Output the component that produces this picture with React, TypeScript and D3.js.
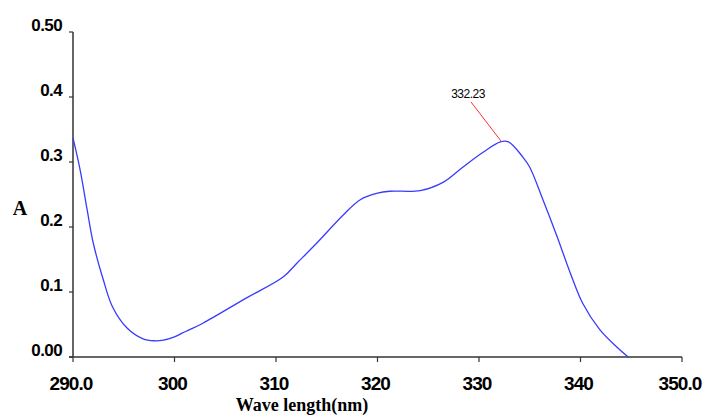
import React from "react";
import * as d3 from "d3";

const wavelength = [290.0, 290.7, 291.4, 292.0, 293.0, 293.9, 295.3, 296.9, 298.0, 298.9, 300.0, 300.8, 301.5, 302.8, 307.1, 310.7, 312.1, 314.0, 316.6, 318.3, 320.0, 321.2, 324.2, 326.5, 328.4, 330.4, 332.1, 332.9, 334.3, 335.0, 336.3, 337.7, 339.0, 340.2, 341.9, 343.6, 344.7];
const absorbance = [0.337, 0.288, 0.226, 0.175, 0.118, 0.077, 0.045, 0.028, 0.025, 0.026, 0.031, 0.037, 0.042, 0.052, 0.091, 0.123, 0.145, 0.175, 0.218, 0.242, 0.252, 0.255, 0.256, 0.269, 0.292, 0.315, 0.331, 0.331, 0.308, 0.292, 0.242, 0.185, 0.129, 0.083, 0.042, 0.015, 0.0];

const xTickValues = [290, 300, 310, 320, 330, 340, 350];
const xTickLabels = ["290.0", "300", "310", "320", "330", "340", "350.0"];
const yTickValues = [0, 0.1, 0.2, 0.3, 0.4, 0.5];
const yTickLabels = ["0.00", "0.1", "0.2", "0.3", "0.4", "0.50"];

const peakWavelength = 332.23;
const peakAbsorbance = 0.331;
const peakLabel = "332.23";

export default function App() {
  const width = 707;
  const height = 415;
  const x = d3.scaleLinear().domain([290, 350]).range([73, 682]);
  const y = d3.scaleLinear().domain([0, 0.5]).range([357, 32]);

  const pts: [number, number][] = wavelength.map((w, i) => [w, absorbance[i]]);
  const line = d3
    .line<[number, number]>()
    .x((d) => x(d[0]))
    .y((d) => y(d[1]))
    .curve(d3.curveCatmullRom.alpha(0.5));

  const axisColor = "#333";
  const tickFont = "'Liberation Sans', Arial, sans-serif";
  const serif = "'Liberation Serif', 'Times New Roman', serif";

  const px = x(peakWavelength);
  const py = y(peakAbsorbance);

  return (
    <svg
      width={width}
      height={height}
      style={{ position: "absolute", left: 0, top: 0, background: "#fff" }}
    >
      <rect x={0} y={0} width={width} height={height} fill="#fff" />
      {/* axes */}
      <line x1={x(290)} x2={x(290)} y1={y(0.5)} y2={y(0)} stroke={axisColor} strokeWidth={1.5} />
      <line x1={x(290) - 4} x2={x(350)} y1={y(0)} y2={y(0)} stroke={axisColor} strokeWidth={1.5} />
      {yTickValues.map((v, i) => (
        <g key={"y" + i}>
          <line x1={x(290) - 4} x2={x(290)} y1={y(v)} y2={y(v)} stroke={axisColor} strokeWidth={1.2} />
          <text
            x={62}
            y={y(v) - 1}
            textAnchor="end"
            fontFamily={tickFont}
            fontWeight="bold"
            fontSize={17}
            letterSpacing={-0.6}
            fill="#000"
          >
            {yTickLabels[i]}
          </text>
        </g>
      ))}
      {xTickValues.map((v, i) => (
        <g key={"x" + i}>
          <line x1={x(v)} x2={x(v)} y1={y(0)} y2={y(0) + 5} stroke={axisColor} strokeWidth={1.2} />
          <text
            x={x(v) - 2}
            y={390}
            textAnchor="middle"
            fontFamily={tickFont}
            fontWeight="bold"
            fontSize={19}
            letterSpacing={-0.9}
            fill="#000"
          >
            {xTickLabels[i]}
          </text>
        </g>
      ))}
      {/* axis titles */}
      <text x={20} y={215} textAnchor="middle" fontFamily={serif} fontWeight="bold" fontSize={20} fill="#000">
        A
      </text>
      <text x={302} y={411} textAnchor="middle" fontFamily={serif} fontWeight="bold" fontSize={18} fill="#000">
        Wave length(nm)
      </text>
      {/* curve */}
      <path d={line(pts) || ""} fill="none" stroke="#3a3aff" strokeWidth={1.3} />
      {/* peak annotation */}
      <line x1={471} y1={102} x2={px} y2={py} stroke="#ff3030" strokeWidth={1} />
      <text x={468} y={98} textAnchor="middle" fontFamily={tickFont} fontSize={12} letterSpacing={-0.5} fill="#000">
        {peakLabel}
      </text>
    </svg>
  );
}
